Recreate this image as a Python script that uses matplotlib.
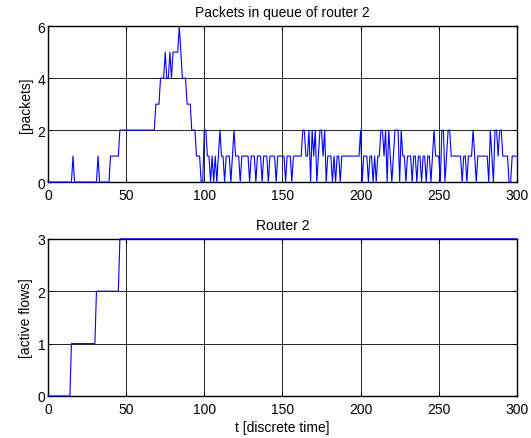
import matplotlib
matplotlib.use('Agg')
from matplotlib import pyplot as plt

plt.rcParams['font.family'] = ['Liberation Sans', 'DejaVu Sans']

# queue length of router 2, one value per discrete time step t = 0..300
queue = [
    0, 0, 0, 0, 0, 0, 0, 0, 0, 0,
    0, 0, 0, 0, 0, 0, 1, 0, 0, 0,
    0, 0, 0, 0, 0, 0, 0, 0, 0, 0,
    0, 0, 1, 0, 0, 0, 0, 0, 0, 0,
    1, 1, 1, 1, 1, 1, 2, 2, 2, 2,
    2, 2, 2, 2, 2, 2, 2, 2, 2, 2,
    2, 2, 2, 2, 2, 2, 2, 2, 2, 3,
    3, 3, 4, 4, 4, 5, 4, 4, 5, 4,
    5, 5, 5, 5, 6, 5, 4, 4, 4, 3,
    3, 3, 2, 2, 2, 1, 1, 1, 0, 0,
    2, 2, 1, 1, 0, 1, 0, 1, 0, 1,
    2, 1, 1, 0, 1, 1, 1, 0, 1, 2,
    1, 1, 1, 0, 1, 1, 1, 1, 1, 0,
    1, 1, 1, 0, 1, 1, 1, 0, 1, 1,
    1, 0, 1, 1, 1, 1, 0, 1, 1, 1,
    1, 1, 0, 1, 1, 1, 0, 1, 1, 1,
    1, 1, 1, 2, 2, 1, 1, 2, 0, 2,
    1, 2, 0, 1, 2, 2, 1, 2, 0, 1,
    1, 1, 0, 1, 0, 1, 1, 0, 1, 1,
    1, 1, 1, 1, 1, 1, 1, 1, 1, 1,
    2, 0, 1, 1, 1, 0, 1, 1, 0, 1,
    0, 1, 1, 2, 2, 1, 2, 0, 2, 1,
    0, 1, 2, 2, 2, 0, 2, 1, 1, 0,
    1, 1, 1, 0, 1, 1, 0, 1, 1, 0,
    1, 1, 0, 1, 1, 0, 1, 2, 1, 1,
    1, 0, 2, 2, 0, 1, 2, 2, 1, 1,
    1, 1, 1, 1, 1, 0, 1, 1, 0, 1,
    1, 1, 2, 1, 0, 1, 1, 1, 1, 1,
    1, 1, 0, 2, 1, 0, 2, 2, 1, 2,
    2, 1, 1, 1, 1, 0, 0, 1, 1, 1,
    1,
]
t_queue = list(range(len(queue)))

# active flows at router 2 (corner points of the step curve)
flow_t = [0, 14, 15, 30, 31, 45, 46, 300]
flow_n = [0, 0, 1, 1, 2, 2, 3, 3]

xticks = [0, 50, 100, 150, 200, 250, 300]

fig = plt.figure(figsize=(5.31, 4.39), dpi=100)
ax1 = fig.add_axes([0.0904, 0.583, 0.883, 0.355])
ax2 = fig.add_axes([0.0904, 0.0957, 0.883, 0.358])

ax1.plot(t_queue, queue, color='blue', linewidth=0.8, zorder=3, clip_on=False)
ax1.set_xlim(0, 300)
ax1.set_ylim(0, 6)
ax1.set_yticks([0, 2, 4, 6])
ax1.set_title('Packets in queue of router 2', fontsize=10, pad=7)
ax1.set_ylabel('[packets]', fontsize=10, labelpad=3)

ax2.plot(flow_t, flow_n, color='blue', linewidth=0.8, zorder=3, clip_on=False)
ax2.set_xlim(0, 300)
ax2.set_ylim(0, 3)
ax2.set_yticks([0, 1, 2, 3])
ax2.set_title('Router 2', fontsize=10, pad=7)
ax2.set_ylabel('[active flows]', fontsize=10, labelpad=3)
ax2.set_xlabel('t [discrete time]', fontsize=10, labelpad=3)

for ax in (ax1, ax2):
    ax.set_xticks(xticks)
    ax.grid(True, color='black', linewidth=0.6, linestyle='-')
    ax.set_axisbelow(True)
    ax.tick_params(direction='in', labelsize=10, length=3, top=True, right=True)
    ax.tick_params(axis='x', pad=4)
    ax.tick_params(axis='y', pad=2)
    for s in ax.spines.values():
        s.set_linewidth(1.0)
        s.set_zorder(2.5)

fig.savefig('out.png', dpi=100)
